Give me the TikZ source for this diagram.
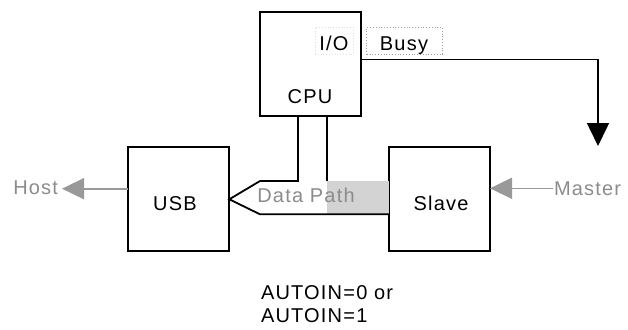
\documentclass[tikz,border=0pt]{standalone}
\usepackage{fontspec}
\setmainfont{Liberation Sans}[LetterSpace=6]
\usetikzlibrary{arrows.meta}
\definecolor{txtgray}{HTML}{8C8C8C}
\definecolor{arrgray}{HTML}{999999}
\definecolor{pathgray}{HTML}{D3D3D3}
\definecolor{dotgray}{HTML}{A0A0A0}
\begin{document}
\begin{tikzpicture}[x=1pt,y=-1pt,
  blk/.style={draw,line width=1.9pt,minimum width=101pt,minimum height=104pt,inner sep=0pt,outer sep=0pt},
  lbl/.style={font=\fontsize{20}{23}\selectfont,inner sep=0pt,outer sep=0pt},
  glbl/.style={lbl,text=txtgray},
  wire/.style={line width=1.8pt},
  garrow/.style={draw=arrgray,line width=1.6pt,-{Triangle[length=22pt,width=21pt,fill=arrgray]}},
  barrow/.style={line width=1.6pt,-{Triangle[length=23pt,width=22pt]}},
  dotbox/.style={draw=dotgray,dotted,line width=0.8pt,inner sep=0pt}]
\useasboundingbox (0,0) rectangle (628,329);
% boxes
\node[blk] (cpu) at (310.5,64) {};
\node[blk] (usb) at (178.5,199) {};
\node[blk] (slave) at (439.5,199) {};
% labels in CPU
\node[dotbox,draw=dotgray!35,minimum width=38pt,minimum height=27pt] (iobox) at (334,40.7) {};
\node[lbl,anchor=base] (io) at (334,50.7) {I/O};
\node[lbl,anchor=base] (cputxt) at (310,103.3) {CPU};
\node[dotbox,minimum width=75.6pt,minimum height=26.7pt] (busybox) at (404.5,40.7) {};
\node[lbl,anchor=base] (busy) at (404,50.7) {Busy};
\node[lbl,anchor=base] (usbtxt) at (175,210) {USB};
\node[lbl,anchor=base] (slavetxt) at (441,210) {Slave};
% Busy connector
\coordinate (busyend) at (598,146);
\draw[barrow] (cpu.east |- 0,59.3) -| (busyend);
% data path
\coordinate (dl) at (298,181);
\coordinate (dr) at (327,181);
\coordinate (ul) at (260,181);
\coordinate (tip) at (229.3,199.3);
\coordinate (ll) at (260,214.3);
\fill[pathgray] (dr) rectangle (slave.west |- ll);
\draw[wire,line join=miter] (cpu.south -| dl) -- (dl) -- (ul) -- (tip) -- (ll) -- (slave.west |- ll);
\draw[wire] (cpu.south -| dr) -- (dr);
\node[glbl,anchor=base] (dptxt) at (306,202.7) {Data Path};
% host / master
\coordinate (hosttip) at (62,188.7);
\draw[garrow] (usb.west |- hosttip) -- (hosttip);
\node[glbl,anchor=base east] (host) at (58,194.5) {Host};
\coordinate (mstart) at (553,188.3);
\draw[garrow] (mstart) -- (slave.east |- mstart);
\node[glbl,anchor=base west] (master) at (554,195) {Master};
% note
\node[lbl,anchor=base west,align=left] (note) at (261,322) {AUTOIN=0 or\\AUTOIN=1};
\end{tikzpicture}
\end{document}
